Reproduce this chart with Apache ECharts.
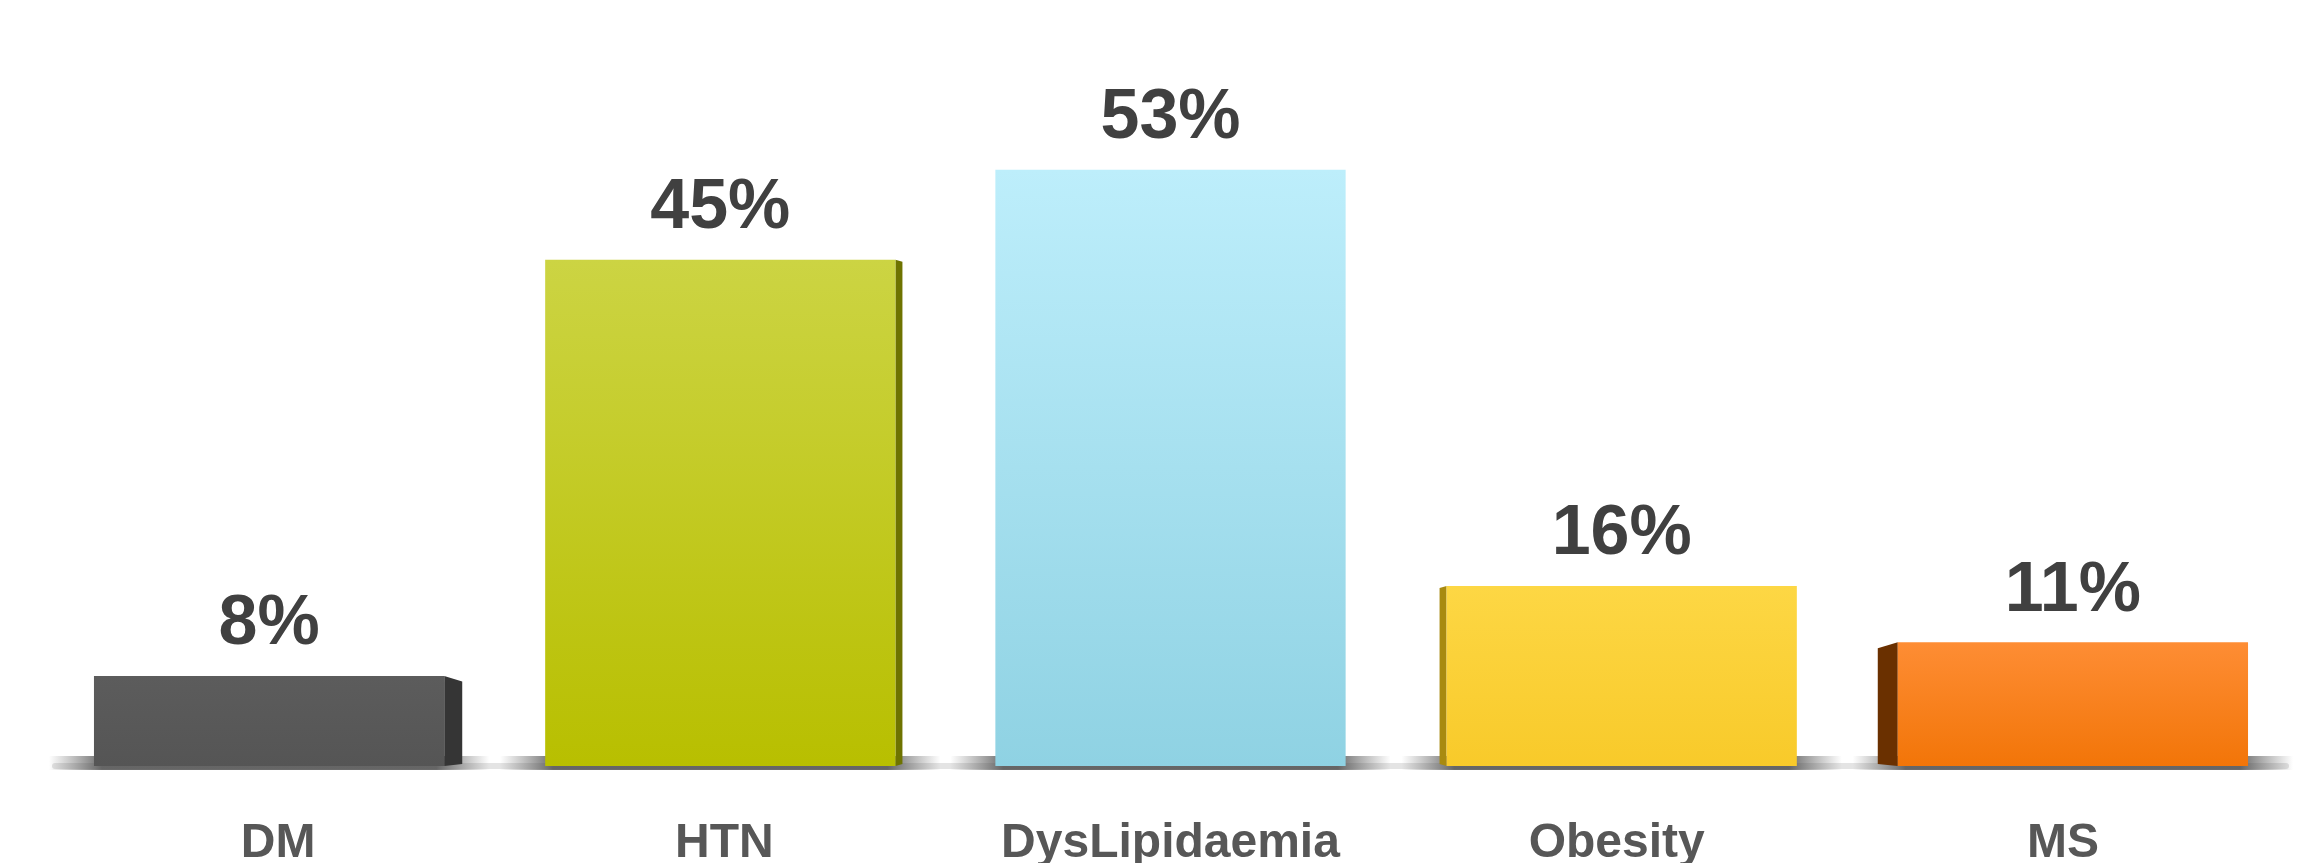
<!DOCTYPE html>
<html>
<head>
<meta charset="utf-8">
<script src="https://cdn.jsdelivr.net/npm/echarts@6/dist/echarts.min.js"></script>
<style>
    html, body { margin: 0; padding: 0; background: #fff; }
    #chart { width: 2320px; height: 863px; }
</style>
</head>
<body>
<div id="chart"></div>
<script>
'use strict'

const categories = ['DM', 'HTN', 'DysLipidaemia', 'Obesity', 'MS']
const values = [8, 45, 53, 16, 11]
// front face gradient (top, bottom) and side face colour
const topColors = ['#5c5c5c', '#ccd443', '#bdeefb', '#fdd744', '#fe8d34']
const bottomColors = ['#555555', '#b8bf00', '#8fd2e3', '#f8ca2a', '#f27508']
const sideColors = ['#353535', '#6e7300', '#7fb9c8', '#a88a10', '#6a3000']
// side depth: negative = left side visible, positive = right side visible
const sideDepth = [18, 7, 0, -7, -20]
// perspective spread of the bars away from the label centres
const spread = [-9, -4, 0, 5, 10]

function renderBar(params, api) {
    const i = api.value(0)
    const top = api.coord([i, api.value(1)])
    const base = api.coord([i, 0])
    const band = api.size([1, 0])[0]
    const w = band * 0.785
    const cx = top[0] + spread[i]
    const x = cx - w / 2
    const yTop = top[1]
    const yBase = base[1]
    const s = sideDepth[i]
    const children = []

    // floor shadow
    children.push({
        type: 'rect',
        shape: { x: x - 45, y: yBase - 10, width: w + 90, height: 14 },
        style: {
            fill: new echarts.graphic.LinearGradient(0, 0, 1, 0, [
                { offset: 0, color: 'rgba(90,90,90,0)' },
                { offset: 0.12, color: 'rgba(70,70,70,0.8)' },
                { offset: 0.88, color: 'rgba(70,70,70,0.8)' },
                { offset: 1, color: 'rgba(90,90,90,0)' }
            ])
        }
    })

    if (s !== 0) {
        const edge = s > 0 ? x + w : x
        children.push({
            type: 'polygon',
            shape: {
                points: [
                    [edge, yTop],
                    [edge + s, yTop + Math.abs(s) * 0.3],
                    [edge + s, yBase - 2],
                    [edge, yBase]
                ]
            },
            style: { fill: sideColors[i] }
        })
    }

    children.push({
        type: 'rect',
        shape: { x: x, y: yTop, width: w, height: yBase - yTop },
        style: {
            fill: new echarts.graphic.LinearGradient(0, 0, 0, 1, [
                { offset: 0, color: topColors[i] },
                { offset: 1, color: bottomColors[i] }
            ])
        }
    })

    children.push({
        type: 'text',
        style: {
            x: cx,
            y: yTop - 16,
            text: api.value(1) + '%',
            fill: '#404040',
            font: 'bold 70px "Liberation Sans", Arial, sans-serif',
            align: 'center',
            verticalAlign: 'bottom'
        }
    })

    return { type: 'group', children: children }
}

const option = {
    animation: false,
    backgroundColor: '#ffffff',
    grid: {
        left: 55,
        right: 34,
        top: 91,
        bottom: 97,
        outerBoundsMode: 'none'
    },
    xAxis: {
        type: 'category',
        data: categories,
        axisTick: { show: false },
        axisLine: {
            show: true,
            lineStyle: { color: '#e4e4e4', width: 6 }
        },
        axisLabel: {
            margin: 54,
            color: '#575757',
            fontSize: 48,
            fontWeight: 'bold',
            fontFamily: '"Liberation Sans", Arial, sans-serif'
        }
    },
    yAxis: {
        type: 'value',
        min: 0,
        max: 60,
        show: false,
        splitLine: { show: false }
    },
    series: [{
        type: 'custom',
        renderItem: renderBar,
        data: values.map((v, k) => [k, v]),
        encode: { x: 0, y: 1 },
        z: 3
    }]
}

const myChart = echarts.init(document.getElementById('chart'))
myChart.setOption(option)
</script>
</body>
</html>
